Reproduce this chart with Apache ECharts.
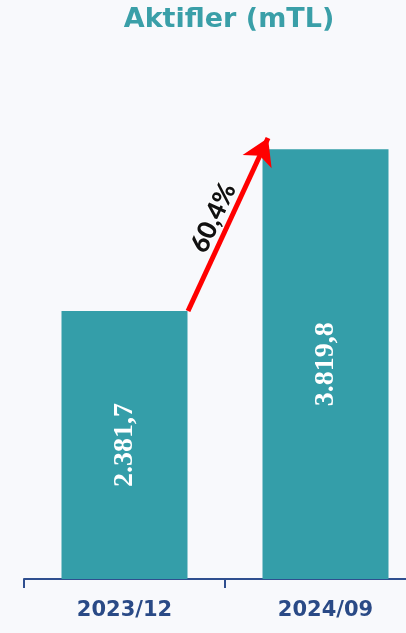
<!DOCTYPE html>
<html>
<head>
<meta charset="utf-8">
<script src="https://cdn.jsdelivr.net/npm/echarts@6/dist/echarts.min.js"></script>
<style>
  html, body { margin: 0; padding: 0; background: #f8f9fc; }
  #chart { width: 406px; height: 633px; }
</style>
</head>
<body>
<div id="chart"></div>
<script>
// veriler
const categories = ['2023/12', '2024/09'];
const values = [2381.7, 3819.8];
const valueLabels = ['2.381,7', '3.819,8'];
const growthLabel = '60,4%';
// ok: başlangıç ve bitiş (gizli değer ekseninde)
const arrowFrom = [0.316, 2381.7];
const arrowTo = [0.714, 3920];

const chart = echarts.init(document.getElementById('chart'));

chart.setOption({
  backgroundColor: '#f8f9fc',
  animation: false,
  title: {
    text: 'Aktifler (mTL)',
    left: 224,
    textAlign: 'center',
    top: 1,
    textStyle: { color: '#3a9fa8', fontSize: 27, fontWeight: 'bold', fontFamily: 'DejaVu Sans' }
  },
  grid: { left: 24, width: 402, top: 129, bottom: 54, outerBoundsMode: 'none' },
  xAxis: [
    {
      type: 'category',
      data: categories,
      axisLine: { lineStyle: { color: '#2f4f8f', width: 2 } },
      axisTick: { show: true, length: 9, lineStyle: { color: '#2f4f8f', width: 2 } },
      axisLabel: {
        color: '#2a4a86', fontSize: 21, fontWeight: 'bold', fontFamily: 'DejaVu Sans', margin: 21
      }
    },
    { type: 'value', min: -0.5, max: 1.5, show: false }
  ],
  yAxis: { type: 'value', min: 0, max: 4000, show: false },
  series: [
    {
      type: 'bar',
      data: values,
      barWidth: 126,
      itemStyle: { color: '#349ea9' },
      label: {
        show: true,
        position: 'inside',
        rotate: 90,
        formatter: p => valueLabels[p.dataIndex],
        color: '#ffffff',
        fontSize: 28,
        fontWeight: 'bold',
        fontFamily: 'Liberation Serif'
      }
    },
    {
      type: 'line',
      xAxisIndex: 1,
      data: [],
      markLine: {
        silent: true,
        symbol: ['none', 'arrow'],
        symbolSize: [24, 26],
        lineStyle: { color: '#ff0000', width: 5, type: 'solid' },
        label: {
          show: true,
          position: 'middle',
          formatter: growthLabel,
          color: '#111111',
          fontSize: 26,
          fontWeight: 900,
          fontFamily: 'Lato',
          distance: 3,
          textBorderColor: '#ffffff',
          textBorderWidth: 2
        },
        data: [[{ coord: arrowFrom }, { coord: arrowTo }]]
      }
    }
  ]
});
</script>
</body>
</html>
